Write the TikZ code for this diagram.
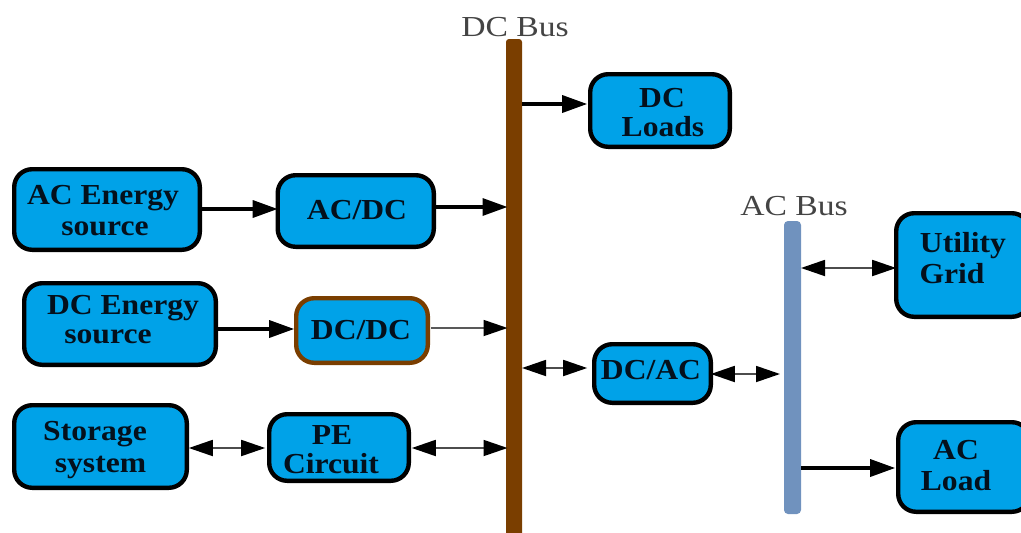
\documentclass[tikz,border=0pt]{standalone}
\usepackage{fontspec}
\usetikzlibrary{arrows.meta,calc}
\setmainfont{Liberation Serif}
\newfontfamily\boxfont[FakeStretch=1.09]{Liberation Serif Bold}
\newfontfamily\busfont[FakeStretch=1.16]{Liberation Serif}
\definecolor{boxblue}{HTML}{00A2E8}
\definecolor{busbrown}{HTML}{7A3E00}
\definecolor{busblue}{HTML}{7092BE}
\definecolor{inkdark}{HTML}{04101C}
\definecolor{buslabel}{HTML}{444444}
\tikzset{
  x=1pt,y=-1pt,
  block/.style={draw=black,line width=4.4pt,fill=boxblue,rounded corners=18pt,inner sep=0pt,outer sep=0pt},
  blockb/.style={block,draw=busbrown},
  boxtext/.style={font=\boxfont\fontsize{29}{29}\selectfont,text=inkdark,anchor=base,inner sep=0pt},
  bustext/.style={font=\busfont\fontsize{29}{29}\selectfont,text=buslabel,anchor=base,inner sep=0pt},
  busbar/.style={rounded corners=3pt,inner sep=0pt,outer sep=0pt},
  heavy/.style={draw=black,line width=3.4pt,-{Triangle[length=25pt,width=17pt]}},
  lightone/.style={draw=black!65,line width=1.8pt,-{Triangle[length=24pt,width=16pt,color=black]}},
  lighttwo/.style={draw=black!70,line width=1.8pt,{Triangle[length=24pt,width=16pt,color=black]}-{Triangle[length=24pt,width=16pt,color=black]}},
}
\newcommand{\blockat}[6][block]{%
  \node[#1,minimum width=#5-#3-4.4pt,minimum height=#6-#4-4.4pt] (#2) at ({(#3+#5)/2},{(#4+#6)/2}) {};}
\begin{document}
\begin{tikzpicture}
\useasboundingbox (0,0) rectangle (1021,533);
\clip (0,0) rectangle (1021,533);
% buses
\fill[busbrown,rounded corners=3pt] (506,39) rectangle (522,545);
\node[busbar,minimum width=16pt,minimum height=506pt] (dcbus) at (514,292) {};
\fill[busblue,rounded corners=4pt] (784,221) rectangle (801,514);
\node[busbar,minimum width=17pt,minimum height=293pt] (acbus) at (792.5,367.5) {};
\node[bustext] (dcbuslabel) at (515,36) {DC Bus};
\node[bustext] (acbuslabel) at (794,215) {AC Bus};
% blocks
\blockat{ae}{12}{167}{202}{252}
\blockat{ad}{275.5}{173}{436}{249}
\blockat{de}{22}{281}{218}{367}
\blockat[blockb]{dd}{294}{296}{430}{365}
\blockat{st}{12}{403}{189}{490}
\blockat{pe}{267}{412}{411}{483}
\blockat{dl}{588}{72}{732}{149}
\blockat{da}{592}{342}{713}{405}
\blockat{ug}{894}{211}{1032}{319}
\blockat{al}{896}{420}{1032}{514}
% texts
\node[boxtext] (t1) at (103,204) {AC Energy};
\node[boxtext] (t2) at (105,235) {source};
\node[boxtext] (t3) at (357,219) {AC/DC};
\node[boxtext] (t4) at (123,314) {DC Energy};
\node[boxtext] (t5) at (108,343) {source};
\node[boxtext] (t6) at (361,339) {DC/DC};
\node[boxtext] (t7) at (95,440) {Storage};
\node[boxtext] (t8) at (100.5,472) {system};
\node[boxtext] (t9) at (332,444) {PE};
\node[boxtext] (t10) at (331,473) {Circuit};
\node[boxtext] (t11) at (662,107) {DC};
\node[boxtext] (t12) at (663,136) {Loads};
\node[boxtext] (t13) at (651,379) {DC/AC};
\node[boxtext] (t14) at (963,252) {Utility};
\node[boxtext] (t15) at (952,283) {Grid};
\node[boxtext] (t16) at (956,459) {AC};
\node[boxtext] (t17) at (956,490) {Load};
% connectors
\draw[heavy] (ae.east |- 0,209) -- (ad.west |- 0,209);
\draw[heavy] (ad.east |- 0,207) -- ([xshift=1.5pt]dcbus.west |- 0,207);
\draw[heavy] (de.east |- 0,329) -- ([xshift=-2pt]dd.west |- 0,329);
\draw[lightone] ([xshift=3pt]dd.east |- 0,328) -- ([xshift=1.5pt]dcbus.west |- 0,328);
\draw[lighttwo] ([xshift=2pt]st.east |- 0,448) -- ([xshift=-4pt]pe.west |- 0,448);
\draw[lighttwo] ([xshift=3pt]pe.east |- 0,448) -- ([xshift=1.5pt]dcbus.west |- 0,448);
\draw[heavy] (dcbus.east |- 0,104) -- ([xshift=-3pt]dl.west |- 0,104);
\draw[lighttwo] (dcbus.east |- 0,368) -- ([xshift=-7pt]da.west |- 0,368);
\draw[lighttwo] (da.east |- 0,374) -- ([xshift=-4pt]acbus.west |- 0,374);
\draw[lighttwo] (acbus.east |- 0,268) -- (ug.west |- 0,268);
\draw[heavy] (acbus.east |- 0,468) -- ([xshift=-3pt]al.west |- 0,468);
\end{tikzpicture}
\end{document}
